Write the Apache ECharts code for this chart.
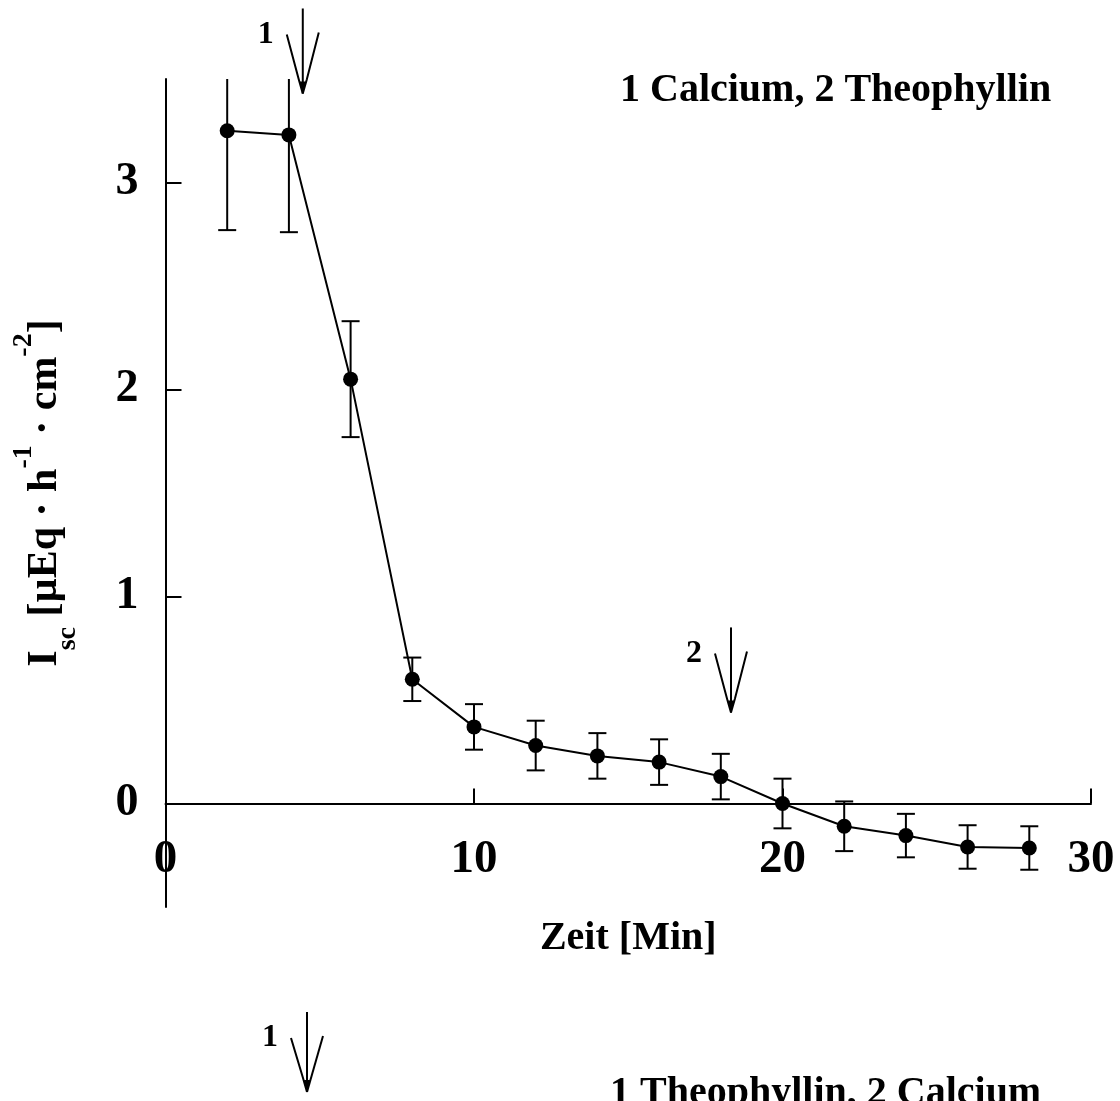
<!DOCTYPE html>
<html>
<head>
<meta charset="utf-8">
<title>Isc – Calcium / Theophyllin</title>
<script src="https://cdn.jsdelivr.net/npm/echarts@6/dist/echarts.min.js"></script>
<style>
  html, body { margin: 0; padding: 0; background: #fff; }
  #chart { width: 1120px; height: 1101px; }
</style>
</head>
<body>
<div id="chart"></div>
<script>
// Short-circuit current over time, mean ± error
const times = [2, 4, 6, 8, 10, 12, 14, 16, 18, 20, 22, 24, 26, 28];
const isc   = [3.25, 3.23, 2.05, 0.60, 0.37, 0.28, 0.23, 0.20, 0.13, 0.00, -0.11, -0.155, -0.21, -0.215];
const err   = [0.48, 0.47, 0.28, 0.105, 0.11, 0.12, 0.11, 0.11, 0.11, 0.12, 0.12, 0.105, 0.105, 0.105];

// Substance additions (minute, arrow tip level, label)
const additionTimes  = [4.45, 18.33];
const additionLevels = [3.43, 0.44];
const additionLabels = ['1', '2'];

// Axis scale and tick labels
const xMin = 0, xMax = 30, xStep = 10;
const yMin = -0.5, yMax = 3.5;
const yTicks = [0, 1, 2, 3];

const FONT = "'Liberation Serif', 'Times New Roman', 'DejaVu Serif', serif";
const INK = '#000';

// Grid geometry; the time axis is drawn through Isc = 0
const GRID = { left: 165.5, right: 29, top: 79, bottom: 194 };
const plotH = 1101 - GRID.top - GRID.bottom;
const zeroOffset = -plotH * (0 - yMin) / (yMax - yMin);

// Harpoon-style down arrow: shaft with two long converging barbs
function arrowShapes(x, tipY, len, label) {
  const top = tipY - len;
  return [
    { type: 'line', shape: { x1: x, y1: top, x2: x, y2: tipY },
      style: { stroke: INK, lineWidth: 2 } },
    { type: 'polyline', shape: { points: [[x - 16, top + 26], [x - 4, tipY - 14], [x, tipY]] },
      style: { stroke: INK, lineWidth: 2, fill: null } },
    { type: 'polyline', shape: { points: [[x + 16, top + 24], [x + 4, tipY - 14], [x, tipY]] },
      style: { stroke: INK, lineWidth: 2, fill: null } },
    { type: 'polygon', shape: { points: [[x - 3, tipY - 12], [x + 3, tipY - 12], [x, tipY]] },
      style: { fill: INK } },
    { type: 'text', x: x - 37, y: top + 26,
      style: { text: label, font: 'bold 32px ' + FONT, fill: INK,
               align: 'center', verticalAlign: 'middle' } }
  ];
}

const chart = echarts.init(document.getElementById('chart'), null, { renderer: 'canvas' });

chart.setOption({
  backgroundColor: '#fff',
  animation: false,
  grid: Object.assign({ containLabel: false }, GRID),
  xAxis: {
    type: 'value', min: xMin, max: xMax, interval: xStep,
    position: 'bottom', offset: zeroOffset,
    name: 'Zeit [Min]', nameLocation: 'middle', nameGap: 115, nameMoveOverlap: false,
    nameTextStyle: { fontFamily: FONT, fontWeight: 'bold', fontSize: 40, color: INK },
    axisLine: { onZero: false, lineStyle: { color: INK, width: 2 } },
    axisTick: { show: true, inside: true, length: 15, lineStyle: { color: INK, width: 2 } },
    axisLabel: { fontFamily: FONT, fontWeight: 'bold', fontSize: 47, color: INK, margin: 33,
                 showMinLabel: true, showMaxLabel: true },
    splitLine: { show: false }
  },
  yAxis: {
    type: 'value', min: yMin, max: yMax,
    name: '{m|I}{sub|sc}{m| [µEq · h}{sup|-1}{m| · cm}{sup|-2}{m|]}',
    nameLocation: 'middle', nameGap: 84, nameRotate: 90, nameMoveOverlap: false,
    nameTextStyle: {
      fontFamily: FONT, fontWeight: 'bold', color: INK,
      rich: {
        m:   { fontFamily: FONT, fontWeight: 'bold', fontSize: 42, lineHeight: 72, color: INK, verticalAlign: 'middle' },
        sup: { fontFamily: FONT, fontWeight: 'bold', fontSize: 28, lineHeight: 28, color: INK, verticalAlign: 'top' },
        sub: { fontFamily: FONT, fontWeight: 'bold', fontSize: 28, lineHeight: 28, color: INK, verticalAlign: 'bottom' }
      }
    },
    axisLine: { onZero: false, lineStyle: { color: INK, width: 2 } },
    axisTick: { show: true, inside: true, length: 16, customValues: yTicks,
                lineStyle: { color: INK, width: 2 } },
    axisLabel: { fontFamily: FONT, fontWeight: 'bold', fontSize: 46, color: INK, margin: 27,
                 customValues: yTicks },
    splitLine: { show: false }
  },
  graphic: [
    { type: 'text', left: 620, top: 71,
      style: { text: '1 Calcium, 2 Theophyllin', font: 'bold 40px ' + FONT, fill: INK } },
    // lower panel (continues below)
    { type: 'group', children: arrowShapes(307, 1092, 80, '1') },
    { type: 'text', left: 610, top: 1074,
      style: { text: '1 Theophyllin, 2 Calcium', font: 'bold 40px ' + FONT, fill: INK } }
  ],
  series: [
    {
      name: 'error',
      type: 'custom',
      z: 2,
      data: times.map((t, i) => [t, isc[i], err[i]]),
      renderItem: function (params, api) {
        const t = api.value(0), v = api.value(1), e = api.value(2);
        const hiVal = Math.min(v + e, yMax);
        const loVal = Math.max(v - e, yMin);
        const hi = api.coord([t, hiVal]);
        const lo = api.coord([t, loVal]);
        const half = 9;
        const kids = [{ type: 'line', shape: { x1: hi[0], y1: hi[1], x2: lo[0], y2: lo[1] },
                        style: { stroke: INK, lineWidth: 2 } }];
        if (v + e <= yMax) {
          kids.push({ type: 'line', shape: { x1: hi[0] - half, y1: hi[1], x2: hi[0] + half, y2: hi[1] },
                      style: { stroke: INK, lineWidth: 2 } });
        }
        kids.push({ type: 'line', shape: { x1: lo[0] - half, y1: lo[1], x2: lo[0] + half, y2: lo[1] },
                    style: { stroke: INK, lineWidth: 2 } });
        return { type: 'group', children: kids };
      }
    },
    {
      name: 'Isc',
      type: 'line',
      z: 3,
      data: times.map((t, i) => [t, isc[i]]),
      symbol: 'circle',
      symbolSize: 15,
      itemStyle: { color: INK },
      lineStyle: { color: INK, width: 2 }
    },
    {
      name: 'additions',
      type: 'custom',
      z: 4,
      clip: false,
      data: additionTimes.map((t, i) => [t, additionLevels[i], i]),
      renderItem: function (params, api) {
        const p = api.coord([api.value(0), api.value(1)]);
        const idx = api.value(2);
        return { type: 'group', children: arrowShapes(p[0], p[1], 85, additionLabels[idx]) };
      }
    }
  ]
});
</script>
</body>
</html>
